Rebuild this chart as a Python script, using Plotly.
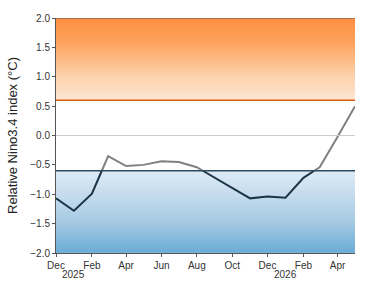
import numpy as np
import pandas as pd
import plotly.graph_objects as go

months = pd.date_range("2024-12-01", "2026-05-01", freq="MS")
values = [-1.07, -1.28, -0.99, -0.35, -0.52, -0.50, -0.44, -0.45, -0.54,
          -0.72, -0.90, -1.07, -1.04, -1.06, -0.72, -0.54, -0.02, 0.50]
tick_dates = pd.date_range("2024-12-01", "2026-04-01", freq="2MS")
tick_labels = [d.strftime("%b") for d in tick_dates]
year_dates = ["2025-01-01", "2026-01-01"]
year_labels = ["2025", "2026"]
el_nino = 0.6
la_nina = -0.6
ymin, ymax = -2.0, 2.0
xmin, xmax = pd.Timestamp("2024-12-01"), pd.Timestamp("2026-05-01")

# split line at the La Nina threshold
t = np.array([(d - xmin).total_seconds() for d in months])
v = np.array(values)
xs, ys = [], []
for i in range(len(v)):
    xs.append(t[i]); ys.append(v[i])
    if i < len(v) - 1 and (v[i] - la_nina) * (v[i + 1] - la_nina) < 0:
        f = (la_nina - v[i]) / (v[i + 1] - v[i])
        xs.append(t[i] + f * (t[i + 1] - t[i])); ys.append(la_nina)
xd = [xmin + pd.Timedelta(seconds=s) for s in xs]
grey = [y if y >= la_nina - 1e-9 else None for y in ys]
dark = [y if y <= la_nina + 1e-9 else None for y in ys]

fig = go.Figure()
# gradients
yt = np.linspace(el_nino, ymax, 50)
fig.add_trace(go.Heatmap(x=[xmin, xmax], y=yt, z=[[y, y] for y in yt],
                         colorscale=[[0, "#fde7d3"], [0.3, "#fdd2ac"], [0.7, "#fda35e"], [1, "#fd8f3f"]],
                         showscale=False, zsmooth="best", hoverinfo="skip"))
yb = np.linspace(ymin, la_nina, 50)
fig.add_trace(go.Heatmap(x=[xmin, xmax], y=yb, z=[[y, y] for y in yb],
                         colorscale=[[0, "#69acd5"], [0.4, "#a9cce5"], [1, "#deebf6"]],
                         showscale=False, zsmooth="best", hoverinfo="skip"))

fig.add_hline(y=0, line=dict(color="#cccccc", width=1))
fig.add_hline(y=el_nino, line=dict(color="#d95f0e", width=1.5))
fig.add_hline(y=la_nina, line=dict(color="#2f4a5e", width=1.5))
fig.add_hline(y=ymax, line=dict(color="#555555", width=1))

fig.add_trace(go.Scatter(x=xd, y=grey, mode="lines", line=dict(color="#808080", width=2),
                         connectgaps=False, hoverinfo="skip"))
fig.add_trace(go.Scatter(x=xd, y=dark, mode="lines", line=dict(color="#1c3448", width=2),
                         connectgaps=False, hoverinfo="skip"))

for d, lab in zip(year_dates, year_labels):
    fig.add_annotation(x=d, y=0, yref="paper", yshift=-14, text=lab, showarrow=False,
                       font=dict(size=10, color="#333333"), yanchor="top")

fig.update_layout(
    width=377, height=286, margin=dict(l=55, r=22, t=13, b=33),
    plot_bgcolor="white", paper_bgcolor="white", showlegend=False,
    font=dict(family="Liberation Sans, Arial, sans-serif", color="#333333"),
)
fig.update_xaxes(range=[xmin, xmax], tickvals=list(tick_dates), ticktext=tick_labels,
                 showgrid=False, zeroline=False, showline=True, linecolor="#555555", linewidth=1,
                 ticks="outside", ticklen=3, tickcolor="#555555", tickfont=dict(size=10))
fig.update_yaxes(range=[ymin, ymax], tickvals=np.arange(-2, 2.01, 0.5),
                 ticktext=[f"{x:.1f}".replace("-", "\u2212") for x in np.arange(-2, 2.01, 0.5)],
                 showgrid=False, zeroline=False, showline=True, linecolor="#555555", linewidth=1,
                 ticks="outside", ticklen=3, tickcolor="#555555", tickfont=dict(size=10),
                 title=dict(text="Relative Nino3.4 index (°C)", font=dict(size=13, color="#222222"), standoff=9))
fig.write_html("out.html")
